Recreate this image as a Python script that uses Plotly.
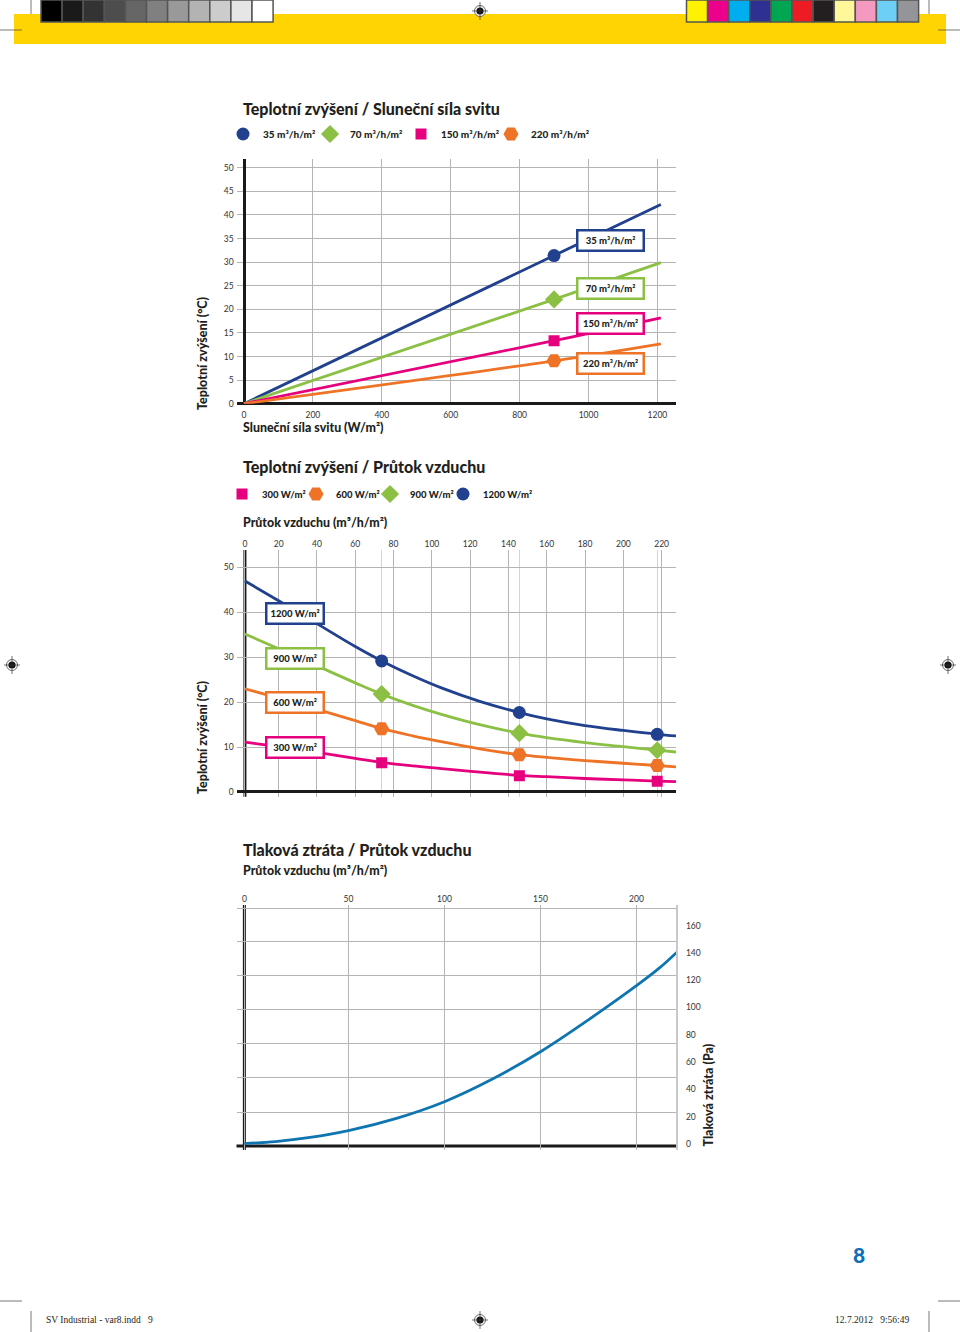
import plotly.graph_objects as go

W, H = 960, 1332
FONT = "Lato"
TEXT = "#231f20"
GRID = "#b4b4b4"
AXIS = "#1a1a1a"
BLUE = "#21408e"
GREEN = "#8bc045"
PINK = "#e6007e"
ORANGE = "#ee7326"
CURVE = "#0f75b0"

# chart 1: temperature rise against solar power
solar_x = [0, 900, 1210]
solar_marker_x = [900]
solar_35 = [0, 31.4, 42.2]
solar_70 = [0, 22.1, 29.9]
solar_150 = [0, 13.35, 18.2]
solar_220 = [0, 9.1, 12.7]
solar_names = ["35 m³/h/m²", "70 m³/h/m²", "150 m³/h/m²", "220 m³/h/m²"]
solar_xticks = [0, 200, 400, 600, 800, 1000, 1200]
solar_yticks = [0, 5, 10, 15, 20, 25, 30, 35, 40, 45, 50]

# chart 2: temperature rise against air flow
# the printed "0" sits a little right of where the even tick spacing would put it
flow_x = [2.4, 20, 40, 60, 73.8, 90, 105, 125, 145.7, 160, 180, 200, 217.7, 227.5]
flow_marker_x = [73.8, 145.7, 217.7]
flow_300 = [11.1, 10.1, 8.8, 7.5, 6.6, 5.8, 5.2, 4.4, 3.7, 3.4, 3.0, 2.7, 2.4, 2.3]
flow_600 = [23.0, 20.9, 18.4, 15.9, 14.1, 12.5, 11.2, 9.6, 8.3, 7.7, 7.0, 6.4, 5.9, 5.6]
flow_900 = [35.2, 31.9, 28.1, 24.3, 21.8, 19.3, 17.3, 15.0, 13.1, 12.1, 11.0, 10.1, 9.3, 8.9]
flow_1200 = [47.0, 42.6, 37.5, 32.4, 29.2, 25.9, 23.2, 20.2, 17.7, 16.3, 14.8, 13.7, 12.85, 12.5]
flow_marker_300 = [6.5, 3.6, 2.4]
flow_marker_600 = [14.1, 8.3, 5.9]
flow_marker_900 = [21.8, 13.1, 9.3]
flow_marker_1200 = [29.2, 17.7, 12.85]
flow_names = ["300 W/m²", "600 W/m²", "900 W/m²", "1200 W/m²"]
flow_xticks = [2.4, 20, 40, 60, 80, 100, 120, 140, 160, 180, 200, 220]
flow_xlabels = ["0", "20", "40", "60", "80", "100", "120", "140", "160", "180", "200", "220"]
flow_yticks = [0, 10, 20, 30, 40, 50]

# chart 3: pressure loss against air flow
loss_x = [-4.2, 12, 30, 50, 75, 100, 125, 150, 175, 200, 212, 222.4]
loss_pa = [0.3, 1.8, 4.8, 9.8, 18.8, 31, 47.6, 67.6, 91, 116, 129, 142.3]
loss_xticks = [-4.2, 50, 100, 150, 200]
loss_xlabels = ["0", "50", "100", "150", "200"]
loss_yticks = [0, 20, 40, 60, 80, 100, 120, 140, 160]
loss_ygrid = [172.9, 148, 123.1, 98.2, 73.3, 48.4, 23.4]

# printer's colour bars
grey_bar = ["#000000", "#1a1a1a", "#333333", "#4d4d4d", "#666666", "#808080",
            "#999999", "#b3b3b3", "#cccccc", "#e6e6e6", "#ffffff"]
colour_bar = ["#fff200", "#ec008c", "#00aeef", "#2e3192", "#00a651", "#ed1c24",
              "#231f20", "#fff799", "#f49ac1", "#6dcff6", "#939598"]

SYMBOL_SIZE = {"circle": 13, "diamond": 14, "square": 11, "hexagon2": 15}


def fx(x):
    return x / W


def fy(y):
    return 1 - y / H


fig = go.Figure()


def add_series(name, x, y, mx, my, color, symbol, axis, legend, entry):
    xa, ya = axis
    fig.add_trace(go.Scatter(x=x, y=y, mode="lines", name=name, showlegend=False,
                             line=dict(color=color, width=2.8, shape="spline", smoothing=1),
                             xaxis=xa, yaxis=ya))
    fig.add_trace(go.Scatter(x=mx, y=my, mode="markers", name=name, legend=legend, legendwidth=entry,
                             marker=dict(color=color, symbol=symbol, size=SYMBOL_SIZE[symbol]),
                             xaxis=xa, yaxis=ya))


add_series(solar_names[0], solar_x, solar_35, solar_marker_x, solar_35[1:2], BLUE, "circle", ("x", "y"), "legend", 42)
add_series(solar_names[1], solar_x, solar_70, solar_marker_x, solar_70[1:2], GREEN, "diamond", ("x", "y"), "legend", 46)
add_series(solar_names[2], solar_x, solar_150, solar_marker_x, solar_150[1:2], PINK, "square", ("x", "y"), "legend", 45)
add_series(solar_names[3], solar_x, solar_220, solar_marker_x, solar_220[1:2], ORANGE, "hexagon2", ("x", "y"), "legend", 70)

add_series(flow_names[0], flow_x, flow_300, flow_marker_x, flow_marker_300, PINK, "square", ("x2", "y2"), "legend2", 29)
add_series(flow_names[1], flow_x, flow_600, flow_marker_x, flow_marker_600, ORANGE, "hexagon2", ("x2", "y2"), "legend2", 29)
add_series(flow_names[2], flow_x, flow_900, flow_marker_x, flow_marker_900, GREEN, "diamond", ("x2", "y2"), "legend2", 28)
add_series(flow_names[3], flow_x, flow_1200, flow_marker_x, flow_marker_1200, BLUE, "circle", ("x2", "y2"), "legend2", 70)

fig.add_trace(go.Scatter(x=loss_x, y=loss_pa, mode="lines", showlegend=False,
                         line=dict(color=CURVE, width=2.8, shape="spline", smoothing=1),
                         xaxis="x3", yaxis="y3"))

tick_font = dict(family=FONT, size=8.5, color="#333333")
axis_base = dict(tickfont=tick_font, ticks="", showgrid=True, gridcolor=GRID, gridwidth=1.2,
                 zeroline=False, showline=False, fixedrange=True)

fig.update_layout(
    width=W, height=H, margin=dict(l=0, r=0, t=0, b=0, autoexpand=False), autosize=False,
    paper_bgcolor="white", plot_bgcolor="white",
    font=dict(family=FONT, color=TEXT),
    hovermode=False,
    xaxis=dict(axis_base, domain=[fx(236.7), fx(676)], range=[-21.2, 1254], anchor="y",
               tickmode="array", tickvals=solar_xticks, ticklabelstandoff=5,
               zeroline=True, zerolinecolor=AXIS, zerolinewidth=3),
    yaxis=dict(axis_base, domain=[fy(403.7), fy(159.3)], range=[0, 51.8], anchor="x",
               tickmode="array", tickvals=solar_yticks, ticklabelstandoff=2,
               zeroline=True, zerolinecolor=AXIS, zerolinewidth=3),
    xaxis2=dict(axis_base, domain=[fx(236.7), fx(676)], range=[-1.9, 227.5], anchor="y2", side="top",
                tickmode="array", tickvals=flow_xticks, ticktext=flow_xlabels,
                minor=dict(tickmode="array", tickvals=flow_marker_x, showgrid=True,
                           gridcolor="#d4d4d4", gridwidth=1, ticks="")),
    yaxis2=dict(axis_base, domain=[fy(796.7), fy(550)], range=[-1.05, 53.9], anchor="x2",
                tickmode="array", tickvals=flow_yticks, ticklabelstandoff=2,
                zeroline=True, zerolinecolor=AXIS, zerolinewidth=3),
    xaxis3=dict(axis_base, domain=[fx(236.5), fx(676.2)], range=[-8.3, 220.7], anchor="y3", side="top",
                tickmode="array", tickvals=loss_xticks, ticktext=loss_xlabels),
    yaxis3=dict(axis_base, domain=[fy(1150), fy(905)], range=[-4.4, 175.1], anchor="x3", side="right",
                showgrid=False, showline=True, linecolor="#c8c8c8", linewidth=2,
                tickmode="array", tickvals=loss_yticks, ticklabelstandoff=6,
                minor=dict(tickmode="array", tickvals=loss_ygrid, showgrid=True,
                           gridcolor=GRID, gridwidth=1.2, ticks="")),
    legend=dict(orientation="h", x=fx(223), y=fy(134), xanchor="left", yanchor="middle",
                bgcolor="rgba(0,0,0,0)", itemclick=False, itemdoubleclick=False,
                entrywidthmode="pixels", traceorder="normal", itemsizing="trace",
                font=dict(family=FONT, size=10, weight=900, color=TEXT)),
    legend2=dict(orientation="h", x=fx(222), y=fy(494), xanchor="left", yanchor="middle",
                 bgcolor="rgba(0,0,0,0)", itemclick=False, itemdoubleclick=False,
                 entrywidthmode="pixels", traceorder="normal", itemsizing="trace",
                 font=dict(family=FONT, size=9.5, weight=900, color=TEXT)),
)

annotations = []


def add_text(text, x, y, size, weight=900, color=TEXT, family=FONT, xanchor="left", angle=0, yanchor="middle"):
    annotations.append(dict(text=text, x=fx(x), y=fy(y), xref="paper", yref="paper",
                            xanchor=xanchor, yanchor=yanchor, textangle=angle, showarrow=False,
                            font=dict(family=family, size=size, weight=weight, color=color)))


def add_box(text, x0, x1, y0, y1, color):
    annotations.append(dict(text=text, x=fx((x0 + x1) / 2), y=fy((y0 + y1) / 2), xref="paper", yref="paper",
                            xanchor="center", yanchor="middle", showarrow=False,
                            width=x1 - x0 - 4, height=y1 - y0 - 4, align="center", valign="middle",
                            bgcolor="white", bordercolor=color, borderwidth=2.5, borderpad=0,
                            font=dict(family=FONT, size=9.5, weight=900, color=TEXT)))


add_text("Teplotní zvýšení / Sluneční síla svitu", 241, 108.5, 16)
add_text("Sluneční síla svitu (W/m²)", 241, 427.5, 12.4)
add_text("Teplotní zvýšení (°C)", 202, 412, 12.5, angle=-90, xanchor="center", yanchor="bottom")
add_text("Teplotní zvýšení / Průtok vzduchu", 241, 466, 16)
add_text("Průtok vzduchu (m³/h/m²)", 241, 523, 12.4)
add_text("Teplotní zvýšení (°C)", 202, 796, 12.5, angle=-90, xanchor="center", yanchor="bottom")
add_text("Tlaková ztráta / Průtok vzduchu", 241, 849, 16)
add_text("Průtok vzduchu (m³/h/m²)", 241, 871, 12.4)
add_text("Tlaková ztráta (Pa)", 708, 1149, 12.5, angle=-90, xanchor="center", yanchor="bottom")

add_box(solar_names[0], 576.7, 645, 229.3, 251.7, BLUE)
add_box(solar_names[1], 576.7, 645, 277.7, 300, GREEN)
add_box(solar_names[2], 576.7, 645, 312.7, 335, PINK)
add_box(solar_names[3], 576.7, 645, 352.3, 374.3, ORANGE)
add_box(flow_names[3], 265, 324.3, 602.7, 625, BLUE)
add_box(flow_names[2], 265, 324.3, 647.3, 669.3, GREEN)
add_box(flow_names[1], 265, 324.3, 691.7, 714, ORANGE)
add_box(flow_names[0], 265, 324.3, 736.7, 758.7, PINK)

add_text("8", 859, 1254, 21, color="#0d6fb8", xanchor="center")
add_text("SV Industrial - var8.indd   9", 44, 1320, 9.5, weight=400, family="Liberation Serif")
add_text("12.7.2012   9:56:49", 911, 1320, 9.5, weight=400, family="Liberation Serif", xanchor="right")

shapes = []


def add_rect(x0, y0, x1, y1, fill, line=None, width=0, layer="below"):
    shapes.append(dict(type="rect", xref="paper", yref="paper", x0=fx(x0), x1=fx(x1), y0=fy(y0), y1=fy(y1),
                       fillcolor=fill, line=dict(color=line, width=width) if line else dict(width=0),
                       layer=layer))


def add_line(x0, y0, x1, y1, color="#555555", width=0.8):
    shapes.append(dict(type="line", xref="paper", yref="paper", x0=fx(x0), x1=fx(x1), y0=fy(y0), y1=fy(y1),
                       line=dict(color=color, width=width), layer="above"))


def add_reg_mark(x, y):
    shapes.append(dict(type="circle", xref="paper", yref="paper", x0=fx(x - 5.5), x1=fx(x + 5.5),
                       y0=fy(y + 5.5), y1=fy(y - 5.5), fillcolor="white",
                       line=dict(color="#444444", width=0.8), layer="above"))
    shapes.append(dict(type="circle", xref="paper", yref="paper", x0=fx(x - 3.6), x1=fx(x + 3.6),
                       y0=fy(y + 3.6), y1=fy(y - 3.6), fillcolor="#111111",
                       line=dict(width=0), layer="above"))
    add_line(x - 8, y, x + 8, y, "#333333", 0.7)
    add_line(x, y - 9, x, y + 9, "#333333", 0.7)


add_rect(14, 14, 946, 44, "#ffd400")
for i, c in enumerate(grey_bar):
    add_rect(41 + i * 21.1, 0, 41 + (i + 1) * 21.1, 22, c, "#555555", 1.5, "above")
for i, c in enumerate(colour_bar):
    add_rect(686.5 + i * 21.1, 0, 686.5 + (i + 1) * 21.1, 22, c, "#555555", 1.5, "above")

# crop marks
add_line(0, 30, 22, 30)
add_line(938, 30, 960, 30)
add_line(31, 0, 31, 14)
add_line(929, 0, 929, 14)
add_line(0, 1301, 22, 1301)
add_line(938, 1301, 960, 1301)
add_line(31, 1311, 31, 1332)
add_line(929, 1311, 929, 1332)

add_reg_mark(480, 11)
add_reg_mark(12, 665)
add_reg_mark(948, 665)
add_reg_mark(480, 1320)

# heavy axis lines that do not fall on value 0 of the plotly scale
shapes.append(dict(type="line", xref="x2", yref="y2 domain", x0=flow_xticks[0], x1=flow_xticks[0], y0=0, y1=1,
                   line=dict(color=AXIS, width=3), layer="below"))
shapes.append(dict(type="line", xref="x3", yref="y3 domain", x0=loss_xticks[0], x1=loss_xticks[0], y0=0, y1=1,
                   line=dict(color=AXIS, width=3), layer="below"))
shapes.append(dict(type="line", xref="x3 domain", yref="y3", x0=0, x1=1, y0=-1.5, y1=-1.5,
                   line=dict(color=AXIS, width=3), layer="below"))

fig.update_layout(annotations=annotations, shapes=shapes)

fig.write_html("out.html", config={"displayModeBar": False}, post_script="document.body.style.margin='0';")
